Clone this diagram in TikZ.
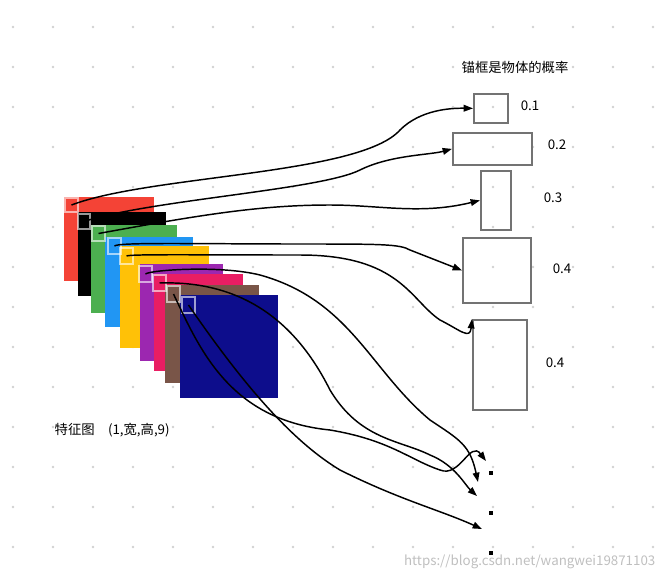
\documentclass[tikz,border=0pt]{standalone}
\usepackage{fontspec}
\setmainfont{Noto Sans CJK SC}
\usetikzlibrary{arrows.meta}
\definecolor{cred}{HTML}{F44336}
\definecolor{cgreen}{HTML}{4CAF50}
\definecolor{cblue}{HTML}{2196F3}
\definecolor{cyellow}{HTML}{FFC107}
\definecolor{cpurple}{HTML}{9C27B0}
\definecolor{cpink}{HTML}{E91E63}
\definecolor{cbrown}{HTML}{795548}
\definecolor{cnavy}{HTML}{0D0D8C}
\begin{document}
\begin{tikzpicture}[x=0.75pt,y=-0.75pt,
  sq/.style={white,opacity=0.6,line width=1.2pt},
  anc/.style={draw=black!55,line width=1.3pt},
  lab/.style={font=\fontsize{10}{12}\selectfont},
  conn/.style={-{Triangle[length=7pt,width=5pt]},line width=1.1pt,black}]
\useasboundingbox (0,0) rectangle (667,579);
\foreach \i in {0,...,16}{\foreach \j in {0,...,14}{\fill[black!18] (13+40*\i,27+40*\j) circle (1.3);}}
% feature maps
\fill[cred] (64,197) rectangle (154,281);
\fill[black] (78,212) rectangle (166,296);
\fill[cgreen] (91,225) rectangle (177,313);
\fill[cblue] (105,237) rectangle (193,327);
\fill[cyellow] (120,246) rectangle (209,348);
\fill[cpurple] (140,264) rectangle (223,361);
\fill[cpink] (154,274) rectangle (243,371);
\fill[cbrown] (165,285) rectangle (259,383);
\fill[cnavy] (180,295) rectangle (278,398);
% small squares
\draw[sq] (65,198) rectangle (78,212) coordinate[pos=.5] (s1);
\draw[sq] (78,214) rectangle (90,229) coordinate[pos=.5] (s2);
\draw[sq] (92,226) rectangle (105,241) coordinate[pos=.5] (s3);
\draw[sq] (108,238) rectangle (121,254) coordinate[pos=.5] (s4);
\draw[sq] (120,248) rectangle (133,264) coordinate[pos=.5] (s5);
\draw[sq] (139,266) rectangle (152,282) coordinate[pos=.5] (s6);
\draw[sq] (153,275) rectangle (166,291) coordinate[pos=.5] (s7);
\draw[sq] (167,286) rectangle (180,302) coordinate[pos=.5] (s8);
\draw[sq] (182,297) rectangle (195,313) coordinate[pos=.5] (s9);
% anchors
\node[anc,minimum width=34*0.75pt,minimum height=29*0.75pt,inner sep=0,anchor=north west] (b1) at (473,93) {};
\node[anc,minimum width=79*0.75pt,minimum height=32*0.75pt,inner sep=0,anchor=north west] (b2) at (452,132) {};
\node[anc,minimum width=30*0.75pt,minimum height=59*0.75pt,inner sep=0,anchor=north west] (b3) at (480,170) {};
\node[anc,minimum width=68*0.75pt,minimum height=65*0.75pt,inner sep=0,anchor=north west] (b4) at (462,237) {};
\node[anc,minimum width=54*0.75pt,minimum height=90*0.75pt,inner sep=0,anchor=north west] (b5) at (472,319) {};
\node[lab] (l1) at (530,106) {0.1};
\node[lab] (l2) at (557,145) {0.2};
\node[lab] (l3) at (553,198) {0.3};
\node[lab] (l4) at (562,269) {0.4};
\node[lab] (l5) at (555,363) {0.4};
\node[lab] (title) at (515,67) {锚框是物体的概率};
\node[lab,anchor=west] (fm) at (50,430) {特征图\quad (1,宽,高,9)};
\node[font=\fontsize{10}{12}\selectfont,text=black!25,anchor=east] (wm) at (660,562) {https://blog.csdn.net/wangwei19871103};
% dots
\fill (489,471) rectangle (493,475) coordinate (d1);
\fill (489,511) rectangle (493,515);
\fill (489,551) rectangle (493,555);
\coordinate (t1) at (486,461);
\coordinate (t2) at (478,482);
\coordinate (t3) at (477,496);
\coordinate (t4) at (482,529);
% connectors
\draw[conn] (s1) .. controls (150,175) and (360,175) .. (400,130) .. controls (420,110) and (450,108) .. (b1.west);
\draw[conn] (s2) .. controls (150,200) and (320,190) .. (360,170) .. controls (390,155) and (430,155) .. (b2.west);
\draw[conn] (s3) .. controls (200,215) and (260,205) .. (330,205) .. controls (380,205) and (420,215) .. (b3.west);
\draw[conn] (s4) .. controls (118,242) and (200,244) .. (300,244) .. controls (380,244) and (400,244) .. (410,250) -- (b4.west);
\draw[conn] (s5) .. controls (130,254) and (200,255) .. (300,255) .. controls (400,255) and (410,300) .. (440,320) .. controls (460,330) and (470,340) .. (b5.north west);
\draw[conn] (s6) .. controls (150,270) and (220,265) .. (260,275) .. controls (350,300) and (370,370) .. (430,420) .. controls (460,440) and (470,445) .. (t2);
\draw[conn] (s7) .. controls (250,280) and (300,330) .. (330,390) .. controls (360,440) and (400,440) .. (430,455) .. controls (455,465) and (465,485) .. (t3);
\draw[conn] (s8) .. controls (200,350) and (230,420) .. (330,430) .. controls (390,440) and (410,460) .. (440,470) .. controls (460,478) and (470,440) .. (t1);
\draw[conn] (s9) .. controls (240,380) and (290,440) .. (340,470) .. controls (400,500) and (440,510) .. (t4);
\end{tikzpicture}
\end{document}
